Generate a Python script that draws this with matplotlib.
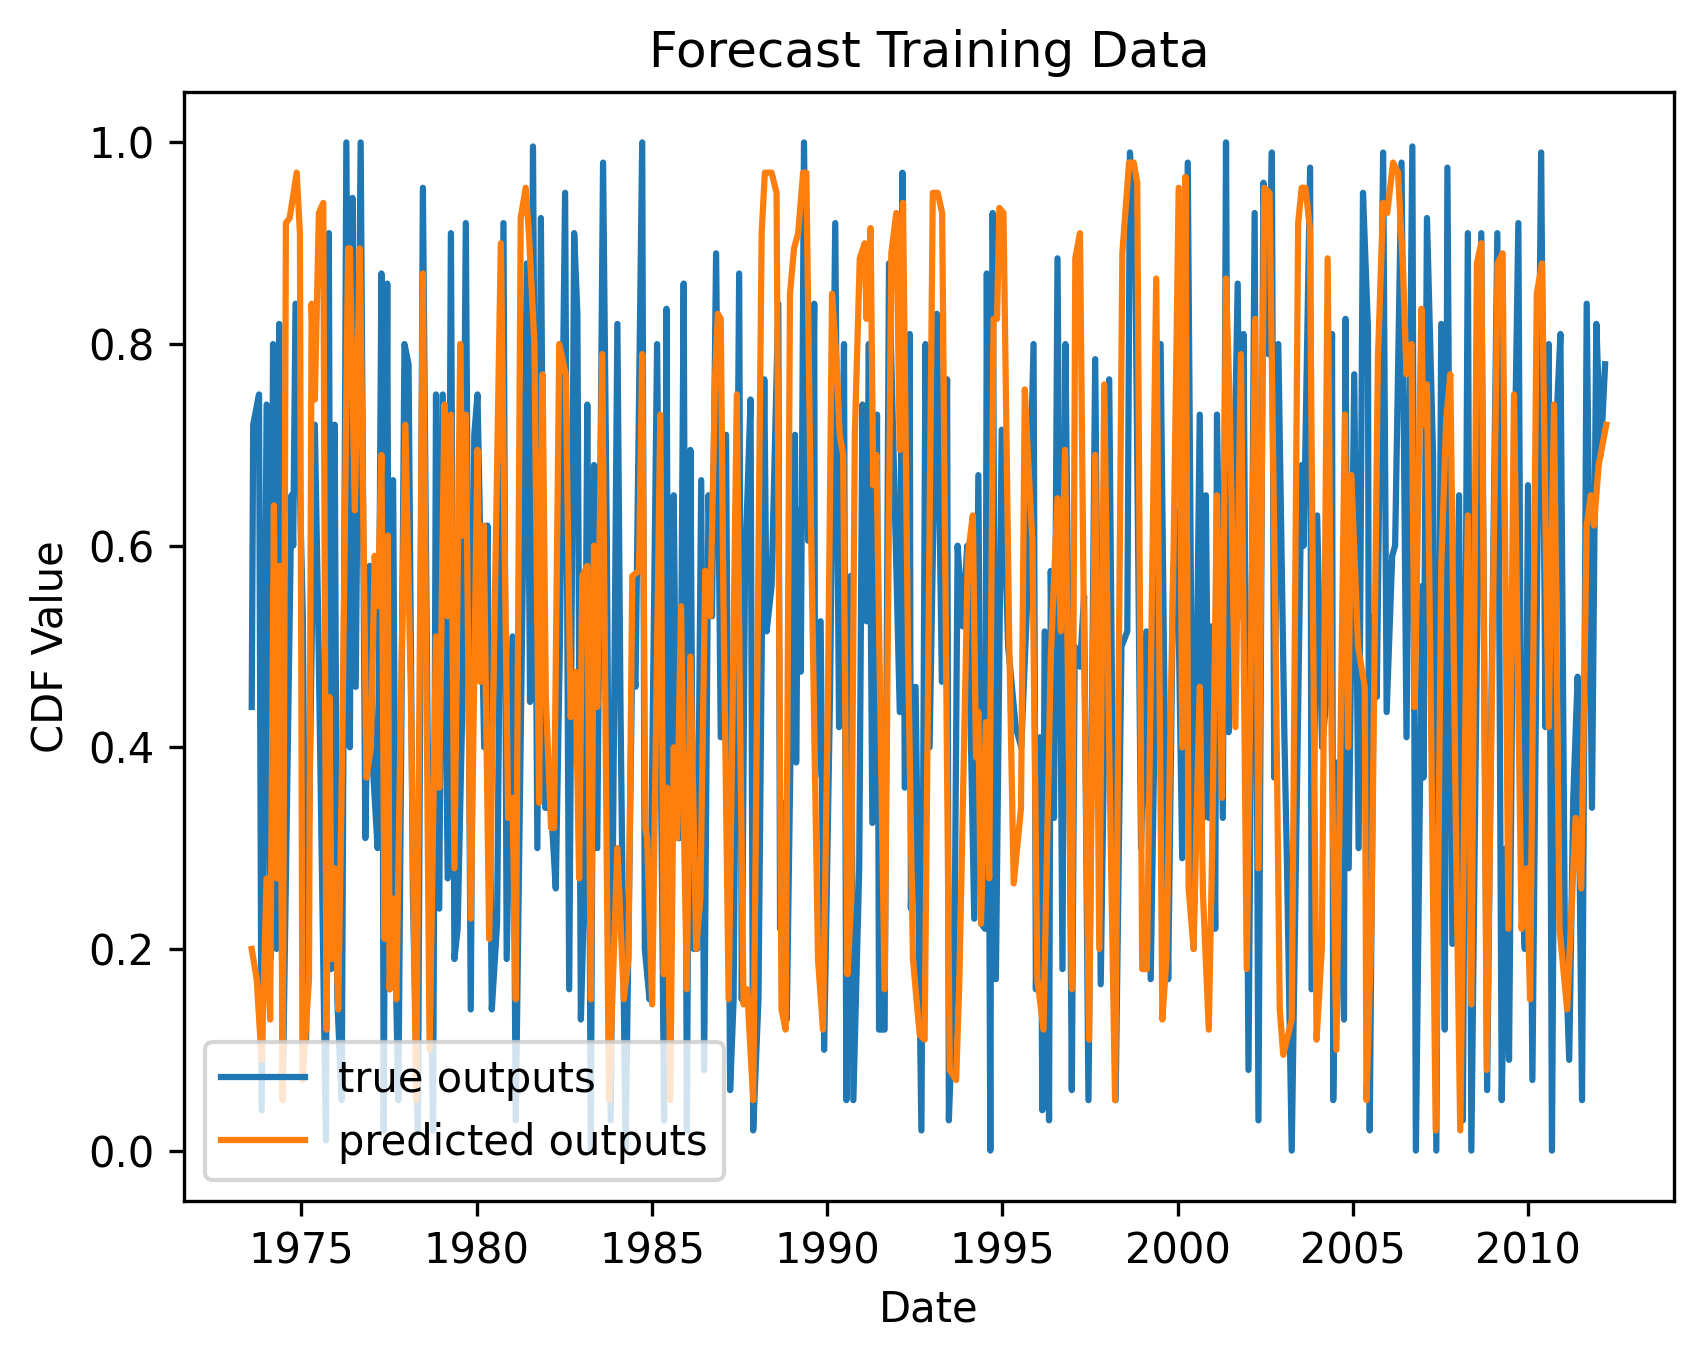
import numpy as np
import matplotlib
matplotlib.use("Agg")
import matplotlib.pyplot as plt

# months elapsed since Aug 1973 (fractional) and CDF values
true_month = [0, 0.5, 2.5, 3.4, 5.1, 6.4, 7.3, 8.5, 9.4, 10.6, 13.6, 14.2, 15.0, 17.5, 18.6, 21.6, 22.8, 25.4, 26.4, 27.2,
              28.4, 29.3, 30.8, 32.4, 33.6, 34.5, 35.6, 37.3, 38.9, 40.4, 41.5, 43.1, 44.4, 45.2, 46.4, 47.2, 48.4, 49.5, 50.2,
              52.3, 53.7, 55.2, 56.9, 58.6, 60.2, 61.2, 62.1, 63.1, 64.2, 65.4, 67.1, 68.2, 69.4, 70.5, 72.0, 73.3, 75.0,
              76.2, 77.3, 79.6, 80.7, 82.2, 84.0, 86.2, 87.3, 89.3, 90.4, 94.2, 95.3, 96.3, 97.8, 99.0, 100.5, 102.5, 104.1,
              105.5, 107.3, 108.7, 110.4, 111.5, 112.7, 113.8, 114.9, 116.1, 117.2, 118.3, 120.3, 121.6, 122.9, 125.2,
              126.3, 128.0, 130.3, 131.4, 133.7, 134.6, 136.2, 138.8, 141.2, 142.0, 143.1, 144.5, 145.6, 146.6, 147.9,
              149.0, 150.2, 151.3, 152.5, 153.9, 154.9, 156.4, 157.6, 159.0, 160.6, 162.4, 163.8, 165.0, 166.9, 167.8,
              168.9, 170.8, 171.7, 173.5, 175.5, 176.3, 178.0, 180.3, 180.9, 182.3, 183.2, 185.0, 186.0, 186.4, 187.2,
              188.0, 189.1, 190.5, 191.7, 192.6, 192.9, 194.8, 196.0, 198.0, 199.8, 201.1, 202.8, 203.6, 205.1, 206.0,
              208.0, 209.1, 210.5, 211.3, 212.5, 214.1, 214.8, 216.7, 218.2, 221.9, 222.8, 223.6, 225.3, 225.7, 227.3,
              229.3, 230.7, 232.1, 234.6, 236.3, 238.1, 238.7, 240.6, 241.7, 243.4, 245.0, 247.4, 248.8, 249.8, 251.1,
              251.7, 252.9, 253.7, 254.8, 256.8, 259.0, 261.6, 263.5, 265.6, 267.7, 268.5, 270.0, 270.7, 271.5, 273.0,
              273.6, 274.7, 275.9, 276.8, 277.6, 278.6, 279.7, 280.8, 281.8, 283.6, 285.0, 286.5, 288.8, 290.7, 293.6,
              295.8, 297.8, 299.8, 300.7, 302.5, 304.5, 306.3, 307.8, 311.2, 312.7, 313.8, 315.5, 316.8, 318.6, 320.5,
              322.5, 324.6, 325.8, 326.7, 327.7, 328.8, 329.9, 330.5, 332.5, 333.6, 334.5, 336.0, 337.6, 338.5, 339.6,
              341.3, 343.4, 344.7, 346.4, 348.1, 349.3, 350.1, 351.5, 353.6, 354.5, 356.1, 359.5, 360.2, 362.4, 362.9,
              364.8, 366.5, 368.0, 369.9, 370.3, 371.8, 374.0, 374.5, 375.6, 377.5, 379.0, 380.5, 382.2, 382.8, 384.3,
              385.2, 387.4, 388.6, 390.5, 391.5, 393.7, 395.4, 397.4, 398.6, 400.8, 401.2, 402.4, 404.5, 405.6, 407.3,
              408.5, 409.4, 411.1, 413.4, 414.7, 416.4, 417.6, 419.5, 421.0, 423.0, 424.5, 426.5, 428.0, 429.5, 430.5,
              432.0, 433.7, 434.8, 435.9, 437.0, 438.5, 441.5, 443.0, 444.1, 445.2, 446.7, 448.1, 449.6, 451.1, 452.5,
              454.0, 455.5, 457.1, 458.9, 460.4, 461.9, 463.4]
true_vals = [0.44, 0.72, 0.75, 0.04, 0.74, 0.19, 0.80, 0.20, 0.82, 0.05, 0.65, 0.60, 0.84, 0.53, 0.11, 0.72, 0.52, 0.01, 0.91, 0.18,
             0.72, 0.15, 0.05, 1.00, 0.40, 0.945, 0.46, 1.00, 0.31, 0.58, 0.38, 0.30, 0.87, 0.02, 0.86, 0.16, 0.665, 0.15, 0.05,
             0.80, 0.78, 0.25, 0.02, 0.955, 0.42, 0.19, 0.02, 0.75, 0.24, 0.75, 0.27, 0.91, 0.19, 0.22, 0.425, 0.92, 0.14,
             0.71, 0.75, 0.40, 0.62, 0.14, 0.225, 0.92, 0.19, 0.51, 0.03, 0.88, 0.445, 0.996, 0.30, 0.925, 0.34, 0.34, 0.26,
             0.50, 0.95, 0.16, 0.91, 0.83, 0.13, 0.25, 0.74, 0.00, 0.68, 0.30, 0.98, 0.60, 0.03, 0.82,
             0.43, 0.00, 0.49, 0.46, 1.00, 0.20, 0.15, 0.80, 0.03, 0.835, 0.10, 0.65, 0.31, 0.31, 0.86,
             0.02, 0.695, 0.20, 0.20, 0.665, 0.08, 0.65, 0.53, 0.89, 0.41, 0.71, 0.06, 0.15, 0.87, 0.15,
             0.575, 0.745, 0.02, 0.15, 0.765, 0.515, 0.56, 0.84, 0.22, 0.345, 0.13, 0.50, 0.71, 0.385, 0.635,
             0.475, 1.00, 0.605, 0.61, 0.84, 0.37, 0.525, 0.10, 0.45, 0.92, 0.42, 0.80, 0.05, 0.57, 0.05,
             0.28, 0.74, 0.525, 0.80, 0.325, 0.73, 0.12, 0.12, 0.88, 0.435, 0.97, 0.36, 0.81, 0.24, 0.46,
             0.02, 0.80, 0.40, 0.83, 0.465, 0.765, 0.03, 0.19, 0.60, 0.52, 0.60, 0.23, 0.67, 0.225, 0.22,
             0.87, 0.00, 0.93, 0.17, 0.715, 0.50, 0.42, 0.40, 0.55, 0.80, 0.16, 0.41, 0.04, 0.515, 0.03,
             0.575, 0.33, 0.885, 0.51, 0.18, 0.80, 0.50, 0.06, 0.50, 0.48, 0.55, 0.05, 0.785, 0.165, 0.765,
             0.05, 0.50, 0.515, 0.99, 0.90, 0.30, 0.515, 0.17, 0.80, 0.40, 0.17, 0.57, 0.635, 0.29, 0.98,
             0.20, 0.73, 0.33, 0.65, 0.33, 0.52, 0.22, 0.73, 0.33, 1.00, 0.415, 0.60, 0.86, 0.53, 0.81,
             0.08, 0.93, 0.03, 0.96, 0.79, 0.99, 0.37, 0.80, 0.41, 0.28, 0.00, 0.68, 0.60, 0.975, 0.16,
             0.63, 0.40, 0.45, 0.81, 0.05, 0.385, 0.13, 0.825, 0.28, 0.77, 0.30, 0.95, 0.815, 0.02, 0.53,
             0.45, 0.99, 0.435, 0.59, 0.60, 0.98, 0.41, 0.996, 0.00, 0.56, 0.37, 0.925, 0.69, 0.00, 0.82,
             0.12, 0.975, 0.205, 0.65, 0.03, 0.91, 0.00, 0.50, 0.91, 0.06, 0.45, 0.91, 0.05, 0.30, 0.09,
             0.60, 0.92, 0.28, 0.20, 0.66, 0.07, 0.99, 0.42, 0.80, 0.00, 0.72, 0.81, 0.22, 0.09, 0.35,
             0.47, 0.05, 0.84, 0.34, 0.82, 0.69, 0.78]

pred_month = [0, 1.7, 3.4, 5.1, 6.3, 7.6, 8.6, 9.6, 10.6, 11.7, 13.0, 15.4, 16.5, 17.4, 19.6, 20.5, 21.6, 23.0, 24.5, 25.6,
              26.6, 27.4, 28.4, 29.6, 31.0, 33.0, 33.6, 35.3, 37.0, 37.8, 39.3, 40.8, 42.1, 43.2, 44.4, 45.5, 46.6, 47.2,
              48.4, 49.5, 52.6, 54.5, 56.3, 58.6, 60.9, 63.1, 64.2, 66.0, 67.1, 68.2, 69.4, 71.4, 72.2, 73.3, 75.0, 77.3,
              78.2, 79.4, 81.3, 85.3, 87.8, 89.3, 90.4, 92.1, 93.8, 94.9, 96.8, 98.4, 99.6, 100.7, 102.5, 103.5, 105.3,
              107.5, 109.2, 110.9, 112.1, 113.2, 114.9, 116.1, 117.2, 118.3, 120.0, 122.3, 125.2, 127.4, 129.0, 130.3,
              132.6, 133.7, 134.8, 135.4, 137.1, 139.9, 141.1, 142.2, 143.3, 144.5, 145.6, 147.0, 148.0, 149.0, 150.2,
              152.2, 153.6, 155.3, 157.0, 158.7, 159.6, 160.6, 161.5, 163.3, 166.1, 167.2, 168.4, 169.7, 170.2, 171.7,
              174.6, 175.7, 178.0, 179.7, 181.4, 182.8, 184.3, 185.7, 187.1, 188.8, 189.9, 191.6, 193.9, 195.6, 197.3,
              198.7, 200.2, 201.3, 202.5, 204.0, 205.3, 206.5, 208.2, 209.9, 210.5, 211.9, 212.8, 213.9, 216.7, 219.0,
              220.7, 221.9, 223.0, 224.7, 226.4, 228.7, 230.4, 233.2, 234.9, 236.4, 239.0, 241.2, 242.3, 245.2, 246.9,
              248.0, 248.8, 249.7, 251.4, 252.5, 254.0, 255.2, 256.0, 257.4, 259.4, 260.9, 263.4, 264.7, 266.2, 267.3,
              269.0, 271.1, 273.6, 275.9, 277.0, 278.5, 280.8, 282.0, 283.6, 285.0, 286.7, 288.8, 290.2, 291.9, 293.6,
              295.6, 298.1, 300.4, 302.0, 303.2, 304.9, 306.5, 309.7, 311.8, 313.2, 315.7, 317.4, 318.6, 319.7, 320.8,
              322.5, 324.6, 325.7, 327.7, 328.8, 330.5, 332.2, 333.6, 335.0, 336.8, 338.7, 340.7, 343.6, 344.7, 346.7,
              348.5, 350.4, 352.0, 353.2, 356.1, 358.3, 359.5, 360.8, 362.3, 364.6, 366.4, 368.4, 369.8, 371.4, 374.3,
              375.4, 376.5, 378.8, 381.1, 381.7, 383.4, 385.6, 387.4, 388.8, 390.8, 392.5, 394.2, 395.4, 397.1, 398.2,
              400.5, 401.1, 402.4, 403.9, 405.4, 407.3, 409.0, 410.4, 412.4, 413.8, 416.4, 417.6, 419.5, 421.0, 422.9,
              426.6, 428.3, 430.3, 432.2, 434.8, 436.6, 437.7, 440.0, 441.8, 443.0, 444.1, 445.9, 447.8, 450.4, 453.3,
              455.2, 457.1, 458.5, 459.6, 461.2, 463.8]
pred_vals = [0.20, 0.17, 0.09, 0.27, 0.13, 0.64, 0.27, 0.58, 0.05, 0.92, 0.925, 0.97, 0.91, 0.07, 0.17, 0.84, 0.745, 0.93, 0.94, 0.12,
             0.45, 0.19, 0.28, 0.14, 0.40, 0.895, 0.895, 0.635, 0.895, 0.72, 0.37, 0.40, 0.59, 0.54, 0.69, 0.21, 0.61, 0.16,
             0.25, 0.15, 0.72, 0.45, 0.05, 0.87, 0.10, 0.51, 0.36, 0.74, 0.53, 0.73, 0.28, 0.80, 0.61, 0.73, 0.23, 0.695,
             0.465, 0.62, 0.21, 0.90, 0.33, 0.35, 0.15, 0.925, 0.955, 0.91, 0.80, 0.345, 0.77, 0.45, 0.32, 0.32, 0.80,
             0.77, 0.43, 0.475, 0.27, 0.57, 0.58, 0.15, 0.60, 0.44, 0.79, 0.05, 0.30, 0.15, 0.19, 0.57,
             0.575, 0.79, 0.32, 0.31, 0.145, 0.73, 0.175, 0.36, 0.05, 0.40, 0.31, 0.54, 0.32, 0.16, 0.49,
             0.20, 0.25, 0.575, 0.53, 0.77, 0.83, 0.825, 0.55, 0.15, 0.75, 0.43, 0.145, 0.16, 0.13, 0.05,
             0.91, 0.97, 0.97, 0.95, 0.14, 0.12, 0.85, 0.895, 0.91, 0.97, 0.97, 0.60, 0.19, 0.12, 0.45,
             0.85, 0.785, 0.71, 0.69, 0.175, 0.25, 0.71, 0.885, 0.90, 0.825, 0.915, 0.66, 0.69, 0.16, 0.89,
             0.93, 0.695, 0.94, 0.50, 0.19, 0.115, 0.11, 0.95, 0.95, 0.93, 0.08, 0.07, 0.17, 0.59, 0.63,
             0.39, 0.435, 0.225, 0.425, 0.27, 0.825, 0.825, 0.935, 0.93, 0.50, 0.265, 0.34, 0.755, 0.665, 0.605,
             0.17, 0.12, 0.49, 0.647, 0.515, 0.695, 0.16, 0.885, 0.91, 0.50, 0.11, 0.69, 0.20, 0.76, 0.40,
             0.05, 0.89, 0.98, 0.98, 0.96, 0.18, 0.18, 0.865, 0.13, 0.19, 0.605, 0.955, 0.40, 0.966, 0.26,
             0.20, 0.46, 0.255, 0.12, 0.29, 0.65, 0.35, 0.865, 0.725, 0.42, 0.79, 0.18, 0.825, 0.28, 0.955,
             0.95, 0.545, 0.14, 0.095, 0.13, 0.92, 0.955, 0.955, 0.915, 0.11, 0.20, 0.885, 0.40, 0.10, 0.73,
             0.40, 0.67, 0.50, 0.46, 0.05, 0.225, 0.785, 0.94, 0.93, 0.98, 0.97, 0.875, 0.77, 0.80, 0.44,
             0.835, 0.72, 0.76, 0.40, 0.02, 0.58, 0.725, 0.77, 0.30, 0.02, 0.63, 0.145, 0.88, 0.90, 0.08,
             0.88, 0.89, 0.22, 0.75, 0.22, 0.28, 0.15, 0.85, 0.88, 0.62, 0.42, 0.74, 0.22, 0.14, 0.33,
             0.26, 0.62, 0.65, 0.62, 0.68, 0.72]

start_date = np.datetime64("1973-08-01T00:00:00")


def to_dates(months):
    secs = (np.asarray(months) * 30.4375 * 86400).astype("int64")
    return start_date + secs.astype("timedelta64[s]")


W, H, DPI = 1702, 1361, 300
fig = plt.figure(figsize=(W / DPI, H / DPI), dpi=DPI)
ax = fig.add_axes([184 / W, 1 - 1201 / H, (1674 - 184) / W, (1201 - 92) / H])

ax.plot(to_dates(true_month), true_vals, label="true outputs")
ax.plot(to_dates(pred_month), pred_vals, label="predicted outputs")

ax.set_title("Forecast Training Data")
ax.set_xlabel("Date")
ax.set_ylabel("CDF Value")
ax.legend(loc="lower left")

fig.savefig("out.png", dpi=DPI)
